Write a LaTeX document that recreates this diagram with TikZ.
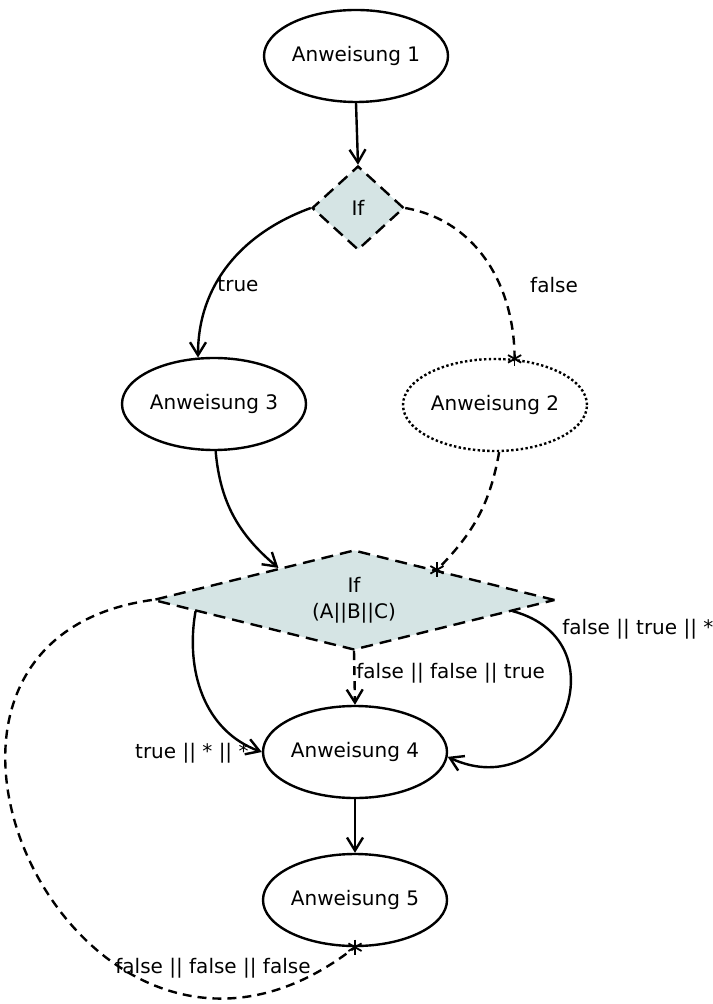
\documentclass[tikz,border=0pt]{standalone}
\usepackage{fontspec}
\setmainfont{DejaVu Sans}
\usetikzlibrary{shapes.geometric,arrows.meta}
\definecolor{condfill}{RGB}{213,228,228}
\tikzset{asterisk/.pic={
  \foreach \ang in {90,30,150}
    \draw[solid,line width=0.9pt] (\ang:3.8pt) -- ({\ang+180}:3.8pt);
}}
\begin{document}
\begin{tikzpicture}[x=0.5pt,y=0.5pt,
  >={Straight Barb[length=6.5pt,width=8pt]},
  stmt/.style={shape=ellipse,draw=black,line width=1.2pt,minimum width=92pt,minimum height=46pt,inner sep=0pt},
  cond/.style={shape=diamond,draw=black,fill=condfill,line width=1.2pt,dash pattern=on 6pt off 3.5pt,inner sep=0pt,align=center},
  flow/.style={line width=1.2pt,->},
  dashflow/.style={line width=1.2pt,dash pattern=on 4.5pt off 3pt},
  lbl/.style={inner sep=0pt}]
  \useasboundingbox (0,0) rectangle (712,-1004);
  \node[stmt] (a1) at (356,-56) {Anweisung 1};
  \node[cond,minimum width=46pt,minimum height=42pt] (if1) at (358,-208) {If};
  \node[stmt] (a3) at (214,-404) {Anweisung 3};
  \node[stmt,dash pattern=on 1.2pt off 1.2pt] (a2) at (495,-405) {Anweisung 2};
  \node[cond,aspect=4,minimum width=201pt,minimum height=50pt] (if2) at (354,-600) {If\\[1pt](A||B||C)};
  \node[stmt] (a4) at (355,-752) {Anweisung 4};
  \node[stmt] (a5) at (355,-900) {Anweisung 5};
  % Verbindungen
  \path[flow] (a1.south) edge (if1.north);
  \path[flow] (if1.west) edge[out=200,in=90] (a3.109);
  \path[dashflow] (if1.east) edge[out=-10,in=90] (a2.67);
  \path[flow] (a3.272) edge[out=-85,in=140] (if2.157);
  \path[dashflow] (a2.275) edge[out=-100,in=45] (if2.20);
  \path[flow] (if2.184) edge[out=-100,in=160] (a4.west);
  \path[dashflow,->] (if2.south) edge (a4.north);
  \path[flow] (if2.-4.5) edge[out=-15,in=-25,looseness=1.9] (a4.-3);
  \path[flow] (a4.south) edge (a5.north);
  \path[dashflow] (if2.west) edge[out=188,in=218,out looseness=2.0,in looseness=2.2] (a5.south);
  \pic at (a2.67) {asterisk};
  \pic at (if2.20) {asterisk};
  \pic at (a5.south) {asterisk};
  % Beschriftungen
  \node[lbl] (ltrue) at (238,-285) {true};
  \node[lbl] (lfalse) at (554,-285) {false};
  \node[lbl,anchor=west] (lfft) at (356,-673) {false || false || true};
  \node[lbl,anchor=east] (ltss) at (249,-753) {true || * || *};
  \node[lbl,anchor=west] (lfts) at (562,-629) {false || true || *};
  \node[lbl] (lfff) at (213,-968) {false || false || false};
\end{tikzpicture}
\end{document}
